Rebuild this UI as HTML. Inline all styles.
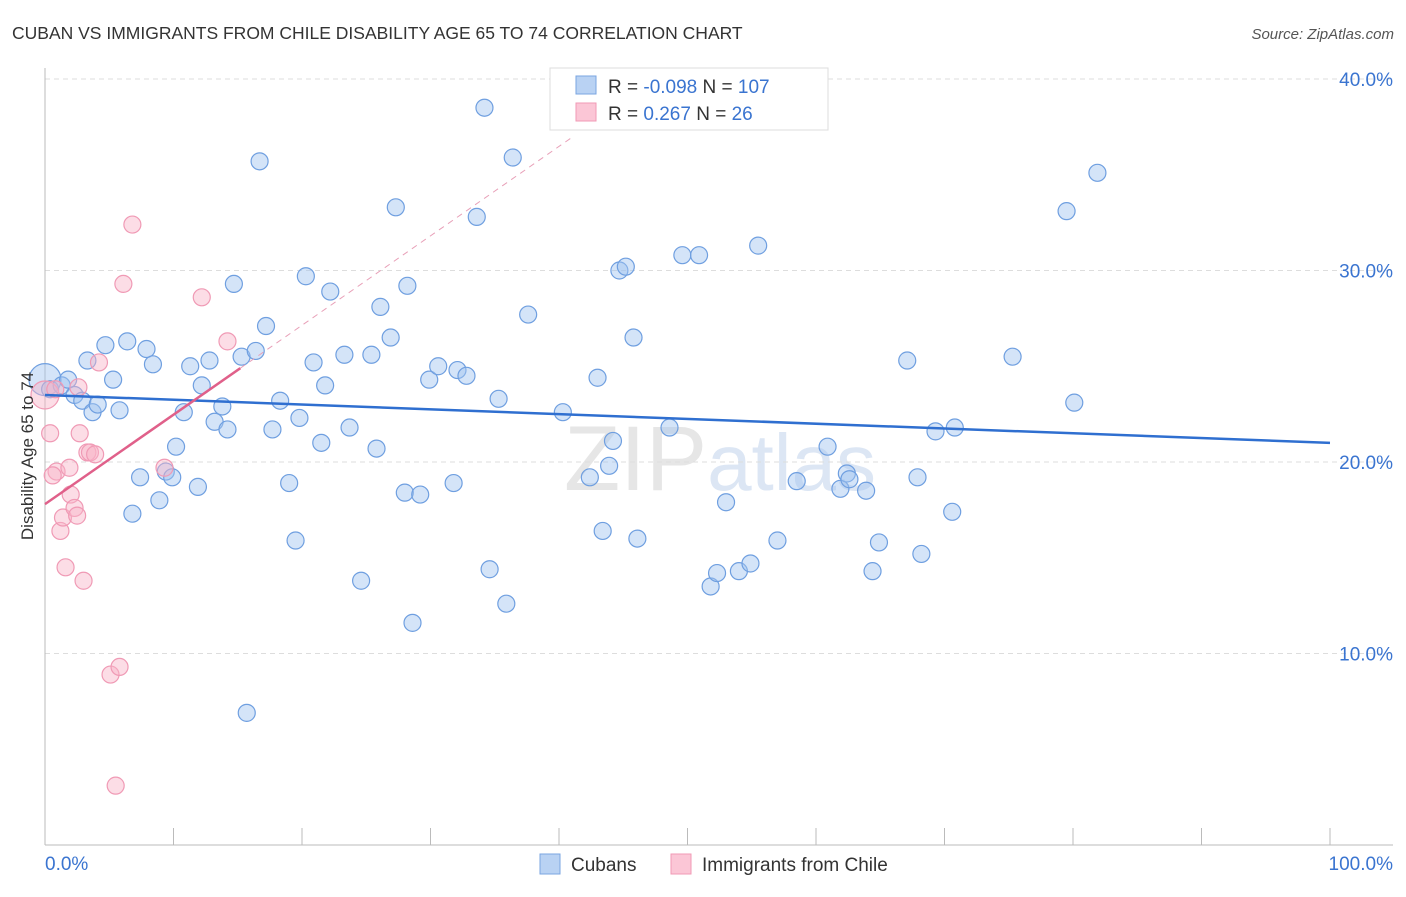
<!DOCTYPE html>
<html><head><meta charset="utf-8"><style>
body{margin:0;background:#fff;font-family:"Liberation Sans",sans-serif}
svg text{font-family:"Liberation Sans",sans-serif}
</style></head><body>
<svg id="chart" width="1406" height="892" viewBox="0 0 1406 892" xmlns="http://www.w3.org/2000/svg">
<text x="12" y="39" font-size="17.5" fill="#333">CUBAN VS IMMIGRANTS FROM CHILE DISABILITY AGE 65 TO 74 CORRELATION CHART</text>
<text x="1394" y="39" font-size="15" fill="#555" font-style="italic" text-anchor="end">Source: ZipAtlas.com</text>
<text x="720" y="490" font-size="92" fill="#e6e6e6" text-anchor="middle" font-family="Liberation Serif">ZIP<tspan fill="#dce6f4" font-family="Liberation Sans" font-size="80">atlas</tspan></text>
<g id="grid"></g>
<g id="axes"></g>
<g id="pts"></g>
<g id="trends"></g>
<text transform="translate(33,456) rotate(-90)" font-size="17" fill="#333" text-anchor="middle">Disability Age 65 to 74</text>
<g>
<rect x="550" y="68" width="278" height="62" fill="#fff" stroke="#ddd"/>
<rect x="576" y="76" width="20" height="18" fill="#b9d2f3" stroke="#7aa5e0"/>
<rect x="576" y="103" width="20" height="18" fill="#fbc6d6" stroke="#f09ab5"/>
<text x="608" y="93" font-size="19" fill="#333">R = <tspan fill="#3a74d0">-0.098</tspan>   N = <tspan fill="#3a74d0">107</tspan></text>
<text x="608" y="120" font-size="19" fill="#333">R =    <tspan fill="#3a74d0">0.267</tspan>   N =   <tspan fill="#3a74d0">26</tspan></text>
</g>
<g>
<rect x="540" y="854" width="20" height="20" fill="#b9d2f3" stroke="#7aa5e0"/>
<text x="571" y="871" font-size="19" fill="#333">Cubans</text>
<rect x="671" y="854" width="20" height="20" fill="#fbc6d6" stroke="#f09ab5"/>
<text x="702" y="871" font-size="19" fill="#333">Immigrants from Chile</text>
</g>
</svg>
<script>
const yTicks=[10,20,30,40];
const yTickLabels=["10.0%","20.0%","30.0%","40.0%"];
const xTickLabels=["0.0%","100.0%"];
const cubanX=[0.0,0.4,1.3,1.8,2.3,2.9,3.7,4.1,3.3,4.7,5.3,5.8,6.4,6.8,7.4,7.9,8.4,8.9,9.4,9.9,10.2,10.8,11.3,11.9,12.2,12.8,13.2,13.8,14.2,14.7,15.3,15.7,16.4,16.7,17.2,17.7,18.3,19.0,19.5,19.8,20.3,20.9,21.5,21.8,22.2,23.3,23.7,24.6,25.4,25.8,26.1,26.9,27.3,28.0,28.2,28.6,29.2,29.9,30.6,31.8,32.1,32.8,33.6,34.2,34.6,35.3,35.9,36.4,37.6,40.3,42.4,43.0,43.4,43.9,44.2,44.7,45.2,45.8,46.1,48.6,49.6,50.9,51.8,52.3,53.0,54.0,54.9,55.5,57.0,58.5,60.9,61.9,62.4,62.6,63.9,64.4,64.9,67.1,67.9,68.2,69.3,70.6,70.8,75.3,79.5,80.1,81.9];
const cubanY=[24.3,23.8,24.0,24.3,23.5,23.2,22.6,23.0,25.3,26.1,24.3,22.7,26.3,17.3,19.2,25.9,25.1,18.0,19.5,19.2,20.8,22.6,25.0,18.7,24.0,25.3,22.1,22.9,21.7,29.3,25.5,6.9,25.8,35.7,27.1,21.7,23.2,18.9,15.9,22.3,29.7,25.2,21.0,24.0,28.9,25.6,21.8,13.8,25.6,20.7,28.1,26.5,33.3,18.4,29.2,11.6,18.3,24.3,25.0,18.9,24.8,24.5,32.8,38.5,14.4,23.3,12.6,35.9,27.7,22.6,19.2,24.4,16.4,19.8,21.1,30.0,30.2,26.5,16.0,21.8,30.8,30.8,13.5,14.2,17.9,14.3,14.7,31.3,15.9,19.0,20.8,18.6,19.4,19.1,18.5,14.3,15.8,25.3,19.2,15.2,21.6,17.4,21.8,25.5,33.1,23.1,35.1];
const chileX=[0.0,0.4,0.8,0.9,1.2,1.4,1.6,1.9,2.0,2.3,2.5,2.6,3.0,3.3,3.5,3.9,4.2,5.1,5.5,5.8,6.8,9.3,12.2,6.1,14.2,0.6,2.7];
const chileY=[23.5,21.5,23.8,19.5,16.4,17.1,14.5,19.7,18.3,17.6,17.2,23.9,13.8,20.5,20.5,20.4,25.2,8.9,3.1,9.3,32.4,19.7,28.6,29.3,26.3,19.3,21.5];
const cubanTrend=[23.5,21.0];   // y at x=0 and x=100
const chileTrend=[17.8,0.467];  // intercept, slope
const NS="http://www.w3.org/2000/svg";
const X=v=>45+v*12.85, Y=v=>845-v*19.15;
function mk(tag,attrs,parent){const e=document.createElementNS(NS,tag);for(const k in attrs)e.setAttribute(k,attrs[k]);parent.appendChild(e);return e;}
const grid=document.getElementById('grid'),axes=document.getElementById('axes'),pts=document.getElementById('pts'),tr=document.getElementById('trends');
yTicks.forEach((t,i)=>{
  const l=mk('line',{x1:45,x2:1393,y1:Y(t),y2:Y(t),stroke:'#ddd','stroke-dasharray':'5,4'},grid);
  
  
  const tx=mk('text',{x:1393,y:Y(t)+7,'font-size':19,fill:'#3a74d0','text-anchor':'end'},axes);
  tx.textContent=yTickLabels[i];
  
  
});
const ya=mk('line',{x1:45,x2:45,y1:68,y2:845,stroke:'#bbb'},axes);


const xa=mk('line',{x1:45,x2:1393,y1:845,y2:845,stroke:'#bbb'},axes);


for(let i=1;i<=10;i++){const t=mk('line',{x1:X(i*10),x2:X(i*10),y1:828,y2:845,stroke:'#bbb'},axes);
  
  }
[[0,'start',45],[100,'end',1393]].forEach((a,i)=>{const t=mk('text',{x:a[2],y:870,'font-size':19,fill:'#3a74d0','text-anchor':a[1]},axes);t.textContent=xTickLabels[i];
  
  });
cubanX.forEach((x,i)=>{const c=mk('circle',{cx:X(x),cy:Y(cubanY[i]),r:i===0?16:8.5,fill:'rgba(160,195,240,0.45)',stroke:'#6f9fe0','stroke-width':1.2},pts);
  
  });
chileX.forEach((x,i)=>{const c=mk('circle',{cx:X(x),cy:Y(chileY[i]),r:i===0?14:8.5,fill:'rgba(248,180,200,0.45)',stroke:'#f09ab5','stroke-width':1.2},pts);
  
  });
const bt=mk('line',{x1:X(0),y1:Y(cubanTrend[0]),x2:X(100),y2:Y(cubanTrend[1]),stroke:'#2f6fd0','stroke-width':2.5},tr);


const pd=mk('line',{x1:X(15.2),y1:Y(chileTrend[0]+chileTrend[1]*15.2),x2:X(41),y2:Y(chileTrend[0]+chileTrend[1]*41),stroke:'#e8a0b8','stroke-width':1,'stroke-dasharray':'6,5'},tr);


const pt=mk('line',{x1:X(0),y1:Y(chileTrend[0]),x2:X(15.2),y2:Y(chileTrend[0]+chileTrend[1]*15.2),stroke:'#e0608a','stroke-width':2.5},tr);


</script>
</body></html>
